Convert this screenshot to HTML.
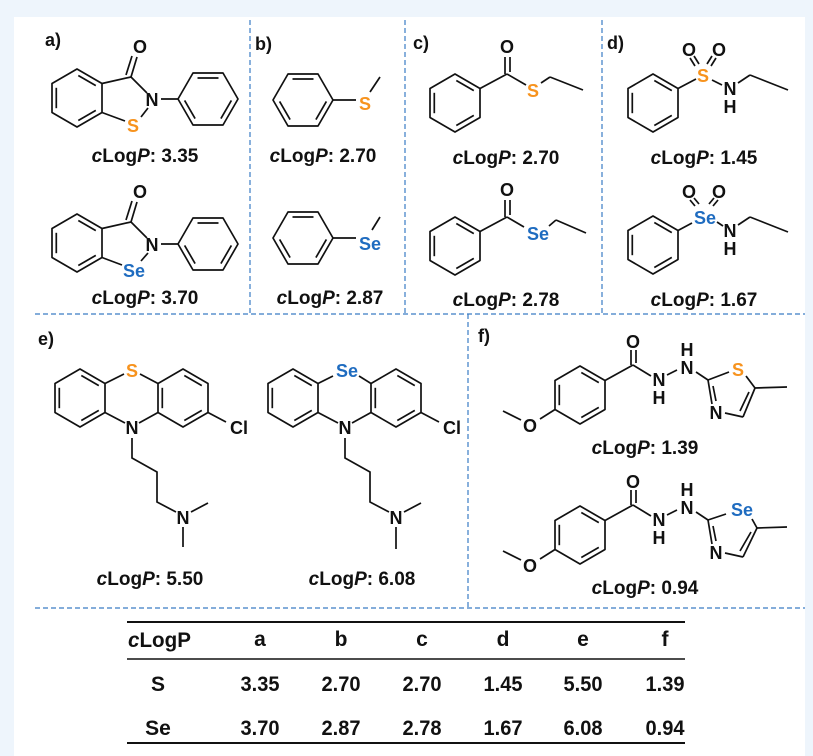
<!DOCTYPE html>
<html><head><meta charset="utf-8"><style>
html,body{margin:0;padding:0;background:#eef5fc;}
svg{display:block}
text{font-family:"Liberation Sans",Arial,sans-serif;font-weight:bold;fill:#111}
.at{font-size:18px;text-anchor:middle}
.lb{font-size:19px;text-anchor:middle}
.pl{font-size:18px}
.tb{font-size:21px;text-anchor:middle}
.S{fill:#f7931e}.Se{fill:#1f6cc0}
</style></head><body>
<svg width="813" height="756" viewBox="0 0 813 756" xmlns="http://www.w3.org/2000/svg">
<defs>
<g id="bzA" fill="none" stroke="#111" stroke-width="1.7" stroke-linejoin="round">
<polygon points="0,-29 25,-14.5 25,14.5 0,29 -25,14.5 -25,-14.5"/>
<line x1="1.3" y1="-22.5" x2="18.8" y2="-12.4"/>
<line x1="-20.7" y1="-10.2" x2="-20.7" y2="10.2"/>
<line x1="18.8" y1="12.4" x2="1.3" y2="22.5"/>
</g>
<g id="bzF" fill="none" stroke="#111" stroke-width="1.7" stroke-linejoin="round">
<polygon points="-30,0 -15,-26 15,-26 30,0 15,26 -15,26"/>
<line x1="-10.5" y1="-21" x2="10.5" y2="-21"/>
<line x1="23.4" y1="1.4" x2="12.9" y2="19.6"/>
<line x1="-12.9" y1="19.6" x2="-23.4" y2="1.4"/>
</g>
</defs>
<rect x="14" y="17" width="791" height="739" fill="#fff"/>
<g stroke="#3a7cc4" stroke-width="1.2" stroke-dasharray="5,3" fill="none">
<line x1="250" y1="20" x2="250" y2="314"/>
<line x1="405" y1="20" x2="405" y2="314"/>
<line x1="602" y1="20" x2="602" y2="314"/>
<line x1="35" y1="314" x2="805" y2="314"/>
<line x1="468" y1="314" x2="468" y2="608"/>
<line x1="35" y1="608" x2="805" y2="608"/>
</g>
<text class="pl" x="45" y="46">a)</text>
<text class="pl" x="255" y="50">b)</text>
<text class="pl" x="413" y="49">c)</text>
<text class="pl" x="607" y="49">d)</text>
<text class="pl" x="38" y="345">e)</text>
<text class="pl" x="478" y="342">f)</text>

<!-- panel a -->
<g>
<use href="#bzA" x="77" y="98"/>
<g stroke="#111" stroke-width="1.7" fill="none">
<line x1="102" y1="83.5" x2="131" y2="77"/>
<line x1="131" y1="77" x2="137" y2="57"/>
<line x1="126" y1="75" x2="132" y2="56"/>
<line x1="131" y1="77" x2="147" y2="93"/>
<line x1="148" y1="108" x2="141" y2="117"/>
<line x1="125" y1="121" x2="102" y2="112.5"/>
<line x1="161" y1="99" x2="179" y2="99"/>
</g>
<use href="#bzF" x="208" y="99"/>
<text class="at" x="140" y="53">O</text>
<text class="at" x="152" y="106">N</text>
</g>
<text class="at S" x="133" y="132">S</text>
<g transform="translate(0,145)">
<use href="#bzA" x="77" y="98"/>
<g stroke="#111" stroke-width="1.7" fill="none">
<line x1="102" y1="83.5" x2="131" y2="77"/>
<line x1="131" y1="77" x2="137" y2="57"/>
<line x1="126" y1="75" x2="132" y2="56"/>
<line x1="131" y1="77" x2="147" y2="93"/>
<line x1="148" y1="108" x2="141" y2="116"/>
<line x1="122" y1="120" x2="102" y2="112.5"/>
<line x1="161" y1="99" x2="179" y2="99"/>
</g>
<use href="#bzF" x="208" y="99"/>
<text class="at" x="140" y="53">O</text>
<text class="at" x="152" y="106">N</text>
<text class="at Se" x="134" y="132">Se</text>
</g>
<text class="lb" x="145" y="162"><tspan font-style="italic">c</tspan>Log<tspan font-style="italic">P</tspan>: 3.35</text>
<text class="lb" x="145" y="304"><tspan font-style="italic">c</tspan>Log<tspan font-style="italic">P</tspan>: 3.70</text>

<!-- panel b -->
<use href="#bzF" x="303" y="100"/>
<g stroke="#111" stroke-width="1.7">
<line x1="333" y1="100" x2="356" y2="100"/>
<line x1="370" y1="92" x2="380" y2="77"/>
<line x1="333" y1="238" x2="356" y2="238"/>
<line x1="372" y1="230" x2="380" y2="217"/>
</g>
<text class="at S" x="365" y="110">S</text>
<use href="#bzF" x="303" y="238"/>
<text class="at Se" x="370" y="250">Se</text>
<text class="lb" x="323" y="162"><tspan font-style="italic">c</tspan>Log<tspan font-style="italic">P</tspan>: 2.70</text>
<text class="lb" x="330" y="304"><tspan font-style="italic">c</tspan>Log<tspan font-style="italic">P</tspan>: 2.87</text>

<!-- panel c -->
<g>
<use href="#bzA" x="455" y="103"/>
<g stroke="#111" stroke-width="1.7">
<line x1="480" y1="88.5" x2="507" y2="74"/>
<line x1="505" y1="74" x2="505" y2="57"/>
<line x1="510" y1="72" x2="510" y2="57"/>
<line x1="507" y1="74" x2="526" y2="85"/>
<line x1="541" y1="83" x2="550" y2="77"/>
<line x1="550" y1="77" x2="583" y2="90"/>
</g>
<text class="at" x="507" y="53">O</text>
<text class="at S" x="533" y="97">S</text>
</g>
<g transform="translate(0,143)">
<use href="#bzA" x="455" y="103"/>
<g stroke="#111" stroke-width="1.7">
<line x1="480" y1="88.5" x2="507" y2="74"/>
<line x1="505" y1="74" x2="505" y2="57"/>
<line x1="510" y1="72" x2="510" y2="57"/>
<line x1="507" y1="74" x2="524" y2="84"/>
<line x1="549" y1="83" x2="556" y2="77"/>
<line x1="556" y1="77" x2="586" y2="90"/>
</g>
<text class="at" x="507" y="53">O</text>
<text class="at Se" x="538" y="97">Se</text>
</g>
<text class="lb" x="506" y="164"><tspan font-style="italic">c</tspan>Log<tspan font-style="italic">P</tspan>: 2.70</text>
<text class="lb" x="506" y="306"><tspan font-style="italic">c</tspan>Log<tspan font-style="italic">P</tspan>: 2.78</text>

<!-- panel d -->
<g>
<use href="#bzA" x="653" y="103"/>
<g stroke="#111" stroke-width="1.7">
<line x1="678" y1="88.5" x2="696" y2="79"/>
<line x1="695" y1="66" x2="690" y2="58"/>
<line x1="699" y1="64" x2="694" y2="56"/>
<line x1="707" y1="64" x2="712" y2="56"/>
<line x1="711" y1="66" x2="716" y2="58"/>
<line x1="712" y1="80" x2="722" y2="85"/>
<line x1="738" y1="83" x2="750" y2="75"/>
<line x1="750" y1="75" x2="788" y2="90"/>
</g>
<text class="at" x="689" y="56">O</text>
<text class="at" x="719" y="56">O</text>
<text class="at S" x="703" y="82">S</text>
<text class="at" x="730" y="95">N</text>
<text class="at" x="730" y="113">H</text>
</g>
<g transform="translate(0,142)">
<use href="#bzA" x="653" y="103"/>
<g stroke="#111" stroke-width="1.7">
<line x1="678" y1="88.5" x2="692" y2="81"/>
<line x1="695" y1="64" x2="690" y2="58"/>
<line x1="699" y1="62" x2="694" y2="56"/>
<line x1="709" y1="62" x2="714" y2="56"/>
<line x1="713" y1="64" x2="718" y2="58"/>
<line x1="717" y1="80" x2="723" y2="84"/>
<line x1="738" y1="83" x2="750" y2="75"/>
<line x1="750" y1="75" x2="788" y2="90"/>
</g>
<text class="at" x="689" y="56">O</text>
<text class="at" x="719" y="56">O</text>
<text class="at Se" x="705" y="82">Se</text>
<text class="at" x="730" y="95">N</text>
<text class="at" x="730" y="113">H</text>
</g>
<text class="lb" x="704" y="164"><tspan font-style="italic">c</tspan>Log<tspan font-style="italic">P</tspan>: 1.45</text>
<text class="lb" x="704" y="306"><tspan font-style="italic">c</tspan>Log<tspan font-style="italic">P</tspan>: 1.67</text>

<!-- panel e -->
<g>
<use href="#bzA" x="80" y="398"/>
<use href="#bzA" x="183" y="398"/>
<g stroke="#111" stroke-width="1.7" fill="none">
<line x1="105" y1="383.5" x2="124" y2="374"/>
<line x1="140" y1="374" x2="158" y2="383.5"/>
<line x1="105" y1="412.5" x2="125" y2="423"/>
<line x1="139" y1="423" x2="158" y2="412.5"/>
<line x1="208" y1="412.5" x2="226" y2="422"/>
<polyline points="132,438 132,458 157,472 157,502 176,512"/>
<line x1="191" y1="512" x2="208" y2="503"/>
<line x1="183" y1="527" x2="183" y2="547"/>
</g>
<text class="at S" x="132" y="377">S</text>
<text class="at" x="132" y="434">N</text>
<text class="at" x="239" y="434">Cl</text>
<text class="at" x="183" y="524">N</text>
</g>
<g transform="translate(213,0)">
<use href="#bzA" x="80" y="398"/>
<use href="#bzA" x="183" y="398"/>
<g stroke="#111" stroke-width="1.7" fill="none">
<line x1="105" y1="383.5" x2="120" y2="376"/>
<line x1="146" y1="376" x2="158" y2="383.5"/>
<line x1="105" y1="412.5" x2="125" y2="423"/>
<line x1="139" y1="423" x2="158" y2="412.5"/>
<line x1="208" y1="412.5" x2="226" y2="422"/>
<polyline points="132,438 132,458 157,472 157,502 176,512"/>
<line x1="191" y1="512" x2="208" y2="503"/>
<line x1="183" y1="527" x2="183" y2="549"/>
</g>
<text class="at Se" x="134" y="377">Se</text>
<text class="at" x="132" y="434">N</text>
<text class="at" x="239" y="434">Cl</text>
<text class="at" x="183" y="524">N</text>
</g>
<text class="lb" x="150" y="585"><tspan font-style="italic">c</tspan>Log<tspan font-style="italic">P</tspan>: 5.50</text>
<text class="lb" x="362" y="585"><tspan font-style="italic">c</tspan>Log<tspan font-style="italic">P</tspan>: 6.08</text>

<!-- panel f -->
<g>
<use href="#bzA" x="580" y="395"/>
<g stroke="#111" stroke-width="1.7" fill="none">
<line x1="555" y1="409.5" x2="540" y2="419"/>
<line x1="521" y1="420" x2="503" y2="411"/>
<line x1="605" y1="380.5" x2="633" y2="365"/>
<line x1="631" y1="365" x2="631" y2="350"/>
<line x1="636" y1="363" x2="636" y2="350"/>
<line x1="633" y1="365" x2="651" y2="376"/>
<line x1="667" y1="375" x2="677" y2="370"/>
<line x1="696" y1="372" x2="708" y2="380"/>
<line x1="708" y1="380" x2="729" y2="372"/>
<line x1="746" y1="376" x2="755" y2="388"/>
<line x1="755" y1="388" x2="743" y2="417"/>
<line x1="749" y1="392" x2="740" y2="411"/>
<line x1="743" y1="417" x2="725" y2="413"/>
<line x1="712" y1="404" x2="708" y2="380"/>
<line x1="716" y1="401" x2="713" y2="386"/>
<line x1="755" y1="388" x2="787" y2="387"/>
</g>
<text class="at" x="530" y="432">O</text>
<text class="at" x="633" y="348">O</text>
<text class="at" x="659" y="386">N</text>
<text class="at" x="659" y="404">H</text>
<text class="at" x="687" y="374">N</text>
<text class="at" x="687" y="356">H</text>
<text class="at S" x="738" y="376">S</text>
<text class="at" x="716" y="419">N</text>
</g>
<g transform="translate(0,140)">
<use href="#bzA" x="580" y="395"/>
<g stroke="#111" stroke-width="1.7" fill="none">
<line x1="555" y1="409.5" x2="540" y2="419"/>
<line x1="521" y1="420" x2="503" y2="411"/>
<line x1="605" y1="380.5" x2="633" y2="365"/>
<line x1="631" y1="365" x2="631" y2="350"/>
<line x1="636" y1="363" x2="636" y2="350"/>
<line x1="633" y1="365" x2="651" y2="376"/>
<line x1="667" y1="375" x2="677" y2="370"/>
<line x1="696" y1="372" x2="708" y2="380"/>
<line x1="708" y1="380" x2="726" y2="374"/>
<line x1="752" y1="379" x2="757" y2="388"/>
<line x1="757" y1="388" x2="743" y2="417"/>
<line x1="751" y1="392" x2="740" y2="411"/>
<line x1="743" y1="417" x2="725" y2="413"/>
<line x1="712" y1="404" x2="708" y2="380"/>
<line x1="716" y1="401" x2="713" y2="386"/>
<line x1="757" y1="388" x2="787" y2="387"/>
</g>
<text class="at" x="530" y="432">O</text>
<text class="at" x="633" y="348">O</text>
<text class="at" x="659" y="386">N</text>
<text class="at" x="659" y="404">H</text>
<text class="at" x="687" y="374">N</text>
<text class="at" x="687" y="356">H</text>
<text class="at Se" x="742" y="376">Se</text>
<text class="at" x="716" y="419">N</text>
</g>
<text class="lb" x="645" y="454"><tspan font-style="italic">c</tspan>Log<tspan font-style="italic">P</tspan>: 1.39</text>
<text class="lb" x="645" y="594"><tspan font-style="italic">c</tspan>Log<tspan font-style="italic">P</tspan>: 0.94</text>

<!-- table -->
<g stroke="#111">
<line x1="127" y1="622" x2="685" y2="622" stroke-width="2"/>
<line x1="127" y1="659" x2="685" y2="659" stroke-width="1.5"/>
<line x1="127" y1="743" x2="685" y2="743" stroke-width="2"/>
</g>
<text class="tb" x="128" y="647" style="text-anchor:start" textLength="63" lengthAdjust="spacingAndGlyphs"><tspan font-style="italic">c</tspan>LogP</text>
<text class="tb" x="260" y="646">a</text>
<text class="tb" x="341" y="646">b</text>
<text class="tb" x="422" y="646">c</text>
<text class="tb" x="503" y="646">d</text>
<text class="tb" x="583" y="646">e</text>
<text class="tb" x="665" y="646">f</text>
<g textLength="39">
<text class="tb" x="158" y="691">S</text>
<text class="tb" x="260" y="691" textLength="39" lengthAdjust="spacingAndGlyphs">3.35</text>
<text class="tb" x="341" y="691" textLength="39" lengthAdjust="spacingAndGlyphs">2.70</text>
<text class="tb" x="422" y="691" textLength="39" lengthAdjust="spacingAndGlyphs">2.70</text>
<text class="tb" x="503" y="691" textLength="39" lengthAdjust="spacingAndGlyphs">1.45</text>
<text class="tb" x="583" y="691" textLength="39" lengthAdjust="spacingAndGlyphs">5.50</text>
<text class="tb" x="665" y="691" textLength="39" lengthAdjust="spacingAndGlyphs">1.39</text>
<text class="tb" x="158" y="735">Se</text>
<text class="tb" x="260" y="735" textLength="39" lengthAdjust="spacingAndGlyphs">3.70</text>
<text class="tb" x="341" y="735" textLength="39" lengthAdjust="spacingAndGlyphs">2.87</text>
<text class="tb" x="422" y="735" textLength="39" lengthAdjust="spacingAndGlyphs">2.78</text>
<text class="tb" x="503" y="735" textLength="39" lengthAdjust="spacingAndGlyphs">1.67</text>
<text class="tb" x="583" y="735" textLength="39" lengthAdjust="spacingAndGlyphs">6.08</text>
<text class="tb" x="665" y="735" textLength="39" lengthAdjust="spacingAndGlyphs">0.94</text>
</g>
</svg>
</body></html>
